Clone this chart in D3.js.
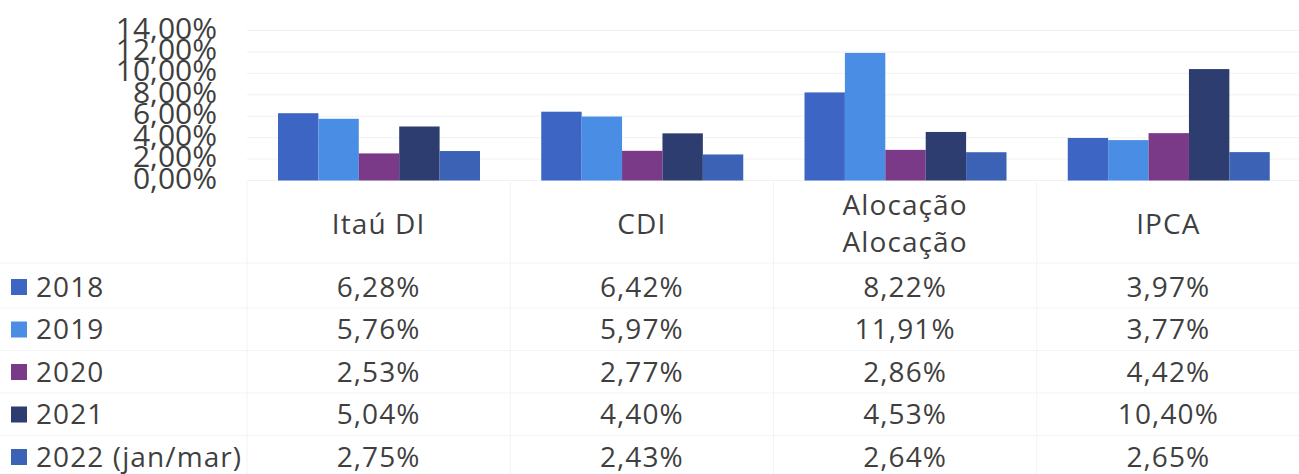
<!DOCTYPE html>
<html>
<head>
<meta charset="utf-8">
<script src="https://cdn.jsdelivr.net/npm/d3@7"></script>
<style>
  body { margin: 0; background: #fff; }
  text { font-family: "Open Sans", "Noto Sans", sans-serif; fill: #3f3f3f; }
</style>
</head>
<body>
<div id="chart"></div>
<script>
var svgWidth = 1299;
var svgHeight = 474;

// data
var categories = ['Itaú DI', 'CDI', 'Alocação', 'IPCA'];
var categoryLines = [['Itaú DI'], ['CDI'], ['Alocação', 'Alocação'], ['IPCA']];
var years = ['2018', '2019', '2020', '2021', '2022 (jan/mar)'];
var values2018 = [6.28, 6.42, 8.22, 3.97];
var values2019 = [5.76, 5.97, 11.91, 3.77];
var values2020 = [2.53, 2.77, 2.86, 4.42];
var values2021 = [5.04, 4.40, 4.53, 10.40];
var values2022 = [2.75, 2.43, 2.64, 2.65];
var yTicks = [0, 2, 4, 6, 8, 10, 12, 14];
var colors = ['#3d66c4', '#4a8de4', '#7a3a88', '#2e3d70', '#3b62b4'];

var seriesValues = [values2018, values2019, values2020, values2021, values2022];

var fmt = function(v) { return v.toFixed(2).replace('.', ',') + '%'; };

var svg = d3.select('#chart').append('svg')
  .attr('width', svgWidth)
  .attr('height', svgHeight);

// scales
var x0 = d3.scaleBand()
  .domain(categories)
  .range([247, 1300]);

var colW = x0.bandwidth();

var x1 = d3.scaleBand()
  .domain(years)
  .range([31, 233]);

var y = d3.scaleLinear()
  .domain([0, 14])
  .range([180.5, 30.5]);

// faint gridlines
svg.append('g')
  .selectAll('line')
  .data(yTicks)
  .enter()
  .append('line')
  .attr('x1', 247)
  .attr('x2', svgWidth)
  .attr('y1', d => y(d))
  .attr('y2', d => y(d))
  .attr('stroke', '#f1f1f1')
  .attr('stroke-width', 1);

// y axis (labels overlap like in the original)
var leftAxis = d3.axisLeft(y)
  .tickValues(yTicks)
  .tickSize(0)
  .tickPadding(0)
  .tickFormat(fmt);

var yAxis = svg.append('g')
  .attr('transform', 'translate(217, -2)')
  .call(leftAxis);

yAxis.select('.domain').remove();
yAxis.selectAll('text')
  .attr('font-size', '30px')
  .style('font-family', '"Open Sans", "Noto Sans", sans-serif')
  .attr('fill', '#444');

// bars
var groups = svg.selectAll('.cat')
  .data(categories)
  .enter()
  .append('g')
  .classed('cat', true)
  .attr('transform', d => `translate(${x0(d)}, 0)`);

groups.selectAll('rect')
  .data((d, i) => years.map((yr, s) => ({ year: yr, s: s, value: seriesValues[s][i] })))
  .enter()
  .append('rect')
  .attr('x', d => x1(d.year))
  .attr('width', x1.bandwidth())
  .attr('y', d => y(d.value))
  .attr('height', d => y(0) - y(d.value))
  .attr('fill', d => colors[d.s]);

// table lines (very faint)
var rowY = [287, 329.5, 372, 414.5, 457];
var tableLines = svg.append('g').attr('stroke', '#f3f3f3').attr('stroke-width', 1);

categories.concat(['end']).forEach(function(c, i) {
  var xx = 247 + i * colW;
  tableLines.append('line')
    .attr('x1', xx).attr('x2', xx)
    .attr('y1', 182).attr('y2', svgHeight);
});
[263].concat(rowY.slice(0, 4).map(r => r + 21)).forEach(function(yy) {
  tableLines.append('line')
    .attr('x1', 0).attr('x2', svgWidth)
    .attr('y1', yy).attr('y2', yy);
});

var tableFont = '28px';
var tableSpacing = '1.1px';

// category headers
categories.forEach(function(c, i) {
  var lines = categoryLines[i];
  var cx = x0(c) + colW / 2;
  var t = svg.append('text')
    .attr('text-anchor', 'middle')
    .attr('font-size', tableFont)
    .attr('letter-spacing', tableSpacing);
  lines.forEach(function(l, k) {
    var cy = lines.length === 1 ? 224 : 205 + k * 37;
    t.append('tspan')
      .attr('x', cx)
      .attr('y', cy)
      .attr('dy', '0.35em')
      .text(l);
  });
});

// legend + values
years.forEach(function(yr, s) {
  var ry = rowY[s];
  svg.append('rect')
    .attr('x', 11)
    .attr('y', ry - 8)
    .attr('width', 16)
    .attr('height', 16)
    .attr('fill', colors[s]);

  svg.append('text')
    .attr('x', 36)
    .attr('y', ry)
    .attr('dy', '0.35em')
    .attr('font-size', tableFont)
    .attr('letter-spacing', tableSpacing)
    .text(yr);

  categories.forEach(function(c, i) {
    svg.append('text')
      .attr('x', x0(c) + colW / 2)
      .attr('y', ry)
      .attr('dy', '0.35em')
      .attr('text-anchor', 'middle')
      .attr('font-size', tableFont)
      .attr('letter-spacing', tableSpacing)
      .text(fmt(seriesValues[s][i]));
  });
});
</script>
</body>
</html>
